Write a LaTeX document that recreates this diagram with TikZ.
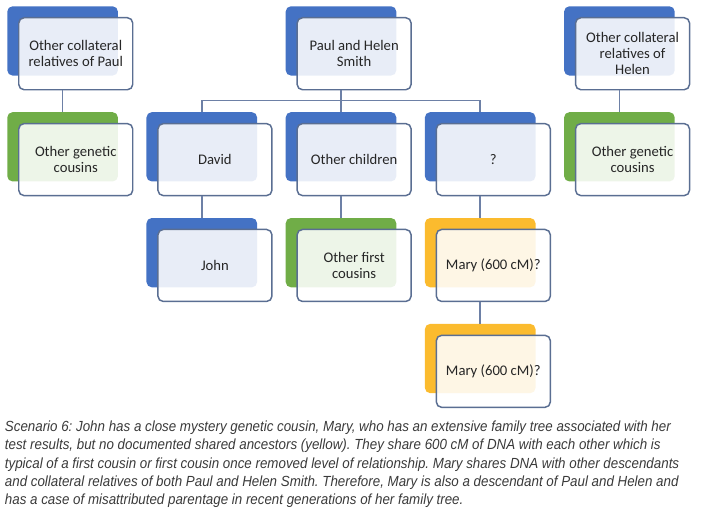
\documentclass[tikz,border=0pt]{standalone}
\usepackage{fontspec}
\setmainfont{Carlito}
\newfontfamily\notefont[FakeStretch=0.91]{Liberation Sans}
\usetikzlibrary{positioning}
\frenchspacing

\definecolor{kinblue}{HTML}{4472C4}
\definecolor{kingreen}{HTML}{70AD47}
\definecolor{kinyellow}{HTML}{FBBB2E}
\definecolor{frame}{HTML}{5A6E92}
\definecolor{linkc}{HTML}{6D80A6}
\definecolor{ink}{HTML}{262626}
\definecolor{notetext}{HTML}{3A3A3A}

\begin{document}
\begin{tikzpicture}[
        node distance=27pt and 21pt,
        back/.style={fill=#1, rounded corners=4pt, minimum width=83pt, minimum height=52pt, inner sep=0pt},
        card/.style={draw=frame, line width=1.1pt, fill=white, fill opacity=0.88, text opacity=1, rounded corners=4pt,
            minimum width=85.5pt, minimum height=54pt, inner sep=2pt, align=center, anchor=north west,
            font=\fontsize{11}{12}\selectfont, text=ink},
        link/.style={draw=linkc, line width=1.1pt}
    ]
    \useasboundingbox (0,0) rectangle (540pt,-382.5pt);
    % back plates: row 1 and row 2
    \node[back=kinblue, anchor=north west] (relPb) at (5.25pt,-4.5pt) {};
    \node[back=kingreen, below=of relPb] (gcLb) {};
    \node[back=kinblue, right=of gcLb] (davidb) {};
    \node[back=kinblue, right=of davidb] (ochb) {};
    \node[back=kinblue, right=of ochb] (qb) {};
    \node[back=kingreen, right=of qb] (gcRb) {};
    \node[back=kinblue, above=of ochb] (phb) {};
    \node[back=kinblue, above=of gcRb] (relHb) {};
    % back plates: rows 3 and 4
    \node[back=kinblue, below=of davidb] (johnb) {};
    \node[back=kingreen, below=of ochb] (ofcb) {};
    \node[back=kinyellow, below=of qb] (mary1b) {};
    \node[back=kinyellow, below=of mary1b] (mary2b) {};

    % cards in front
    \node[card] (relP) at ([shift={(8.25pt,-8.25pt)}]relPb.north west) {Other collateral\\relatives of Paul};
    \node[card] (ph) at ([shift={(8.25pt,-8.25pt)}]phb.north west) {Paul and Helen\\Smith};
    \node[card] (relH) at ([shift={(8.25pt,-8.25pt)}]relHb.north west) {Other collateral\\relatives of\\Helen};
    \node[card] (gcL) at ([shift={(8.25pt,-8.25pt)}]gcLb.north west) {Other genetic\\cousins};
    \node[card] (david) at ([shift={(8.25pt,-8.25pt)}]davidb.north west) {David};
    \node[card] (och) at ([shift={(8.25pt,-8.25pt)}]ochb.north west) {Other children};
    \node[card] (q) at ([shift={(8.25pt,-8.25pt)}]qb.north west) {?};
    \node[card] (gcR) at ([shift={(8.25pt,-8.25pt)}]gcRb.north west) {Other genetic\\cousins};
    \node[card] (john) at ([shift={(8.25pt,-8.25pt)}]johnb.north west) {John};
    \node[card] (ofc) at ([shift={(8.25pt,-8.25pt)}]ofcb.north west) {Other first\\cousins};
    \node[card] (mary1) at ([shift={(8.25pt,-8.25pt)}]mary1b.north west) {Mary (600 cM)?};
    \node[card] (mary2) at ([shift={(8.25pt,-8.25pt)}]mary2b.north west) {Mary (600 cM)?};

    % connectors
    \draw[link] (relPb.south |- relP.south) -- (gcLb.north);
    \draw[link] (relHb.south |- relH.south) -- (gcRb.north);
    \draw[link] (phb.south |- ph.south) -- ++(0,-7.5pt) coordinate (bus);
    \draw[link] (davidb.north) |- (bus) -| (qb.north);
    \draw[link] (bus) -- (ochb.north);
    \draw[link] (davidb.south |- david.south) -- (johnb.north);
    \draw[link] (ochb.south |- och.south) -- (ofcb.north);
    \draw[link] (qb.south |- q.south) -- (mary1b.north);
    \draw[link] (mary1b.south |- mary1.south) -- (mary2b.north);

    % caption
    \node[anchor=north west, align=left, inner sep=0pt, text=notetext,
        font=\notefont\itshape\fontsize{11}{13.7}\selectfont] (note) at (3.5pt,-315.5pt)
        {Scenario 6: John has a close mystery genetic cousin, Mary, who has an extensive family tree associated with her\\
        test results, but no documented shared ancestors (yellow). They share 600 cM of DNA with each other which is\\
        typical of a first cousin or first cousin once removed level of relationship. Mary shares DNA with other descendants\\
        and collateral relatives of both Paul and Helen Smith. Therefore, Mary is also a descendant of Paul and Helen and\\
        has a case of misattributed parentage in recent generations of her family tree.};
\end{tikzpicture}
\end{document}
